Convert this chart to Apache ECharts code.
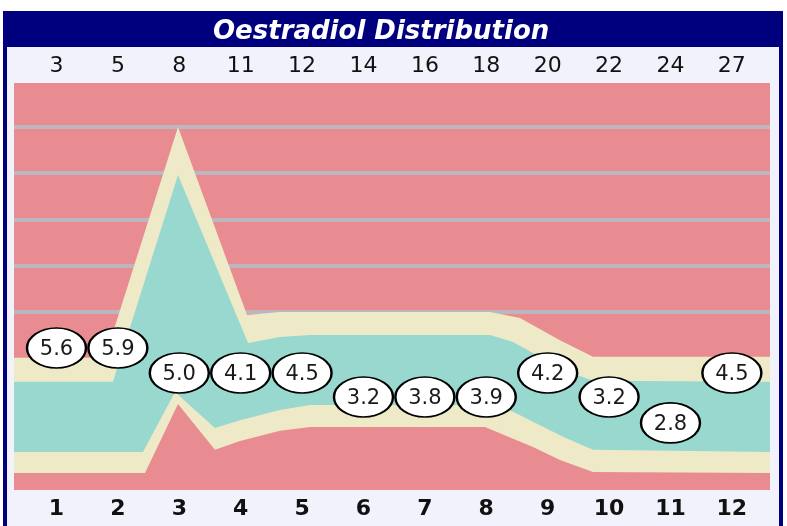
<!DOCTYPE html>
<html>
<head>
<meta charset="utf-8">
<script src="https://cdn.jsdelivr.net/npm/echarts@6/dist/echarts.min.js"></script>
<style>
  html, body { margin: 0; padding: 0; background: #fff; }
  #chart { width: 787px; height: 526px; }
</style>
</head>
<body>
<div id="chart"></div>
<script>
// cycle number (bottom) and day (top) for each visit
var cycleLabels = ['1', '2', '3', '4', '5', '6', '7', '8', '9', '10', '11', '12'];
var dayLabels = ['3', '5', '8', '11', '12', '14', '16', '18', '20', '22', '24', '27'];

// measured values shown in the ellipses, and the height each ellipse sits at
var measured = [5.6, 5.9, 5.0, 4.1, 4.5, 3.2, 3.8, 3.9, 4.2, 3.2, 2.8, 4.5];
var markerLevel = [32.2, 32.2, 26.8, 26.8, 26.8, 21.6, 21.6, 21.6, 26.8, 21.6, 16.0, 26.8];

// band edges, [position, level]
var upperOuter = [[0.308, 30.1], [1.79, 30.1], [2.979, 80], [4.103, 39.35], [4.64, 40], [8.06, 40],
  [8.549, 38.7], [9.2, 33.9], [9.738, 30.3], [12.621, 30.3]];
var upperInner = [[0.308, 24.9], [1.92, 24.9], [2.979, 69.6], [4.12, 33.3], [4.64, 34.6], [5.129, 35.0],
  [8.06, 35.0], [8.435, 33.5], [9.249, 27.5], [9.738, 25.1], [12.621, 24.9]];
var lowerInner = [[0.308, 9.7], [2.409, 9.7], [2.93, 22.7], [3.581, 14.9], [3.989, 16.6], [4.64, 18.8],
  [5.129, 19.9], [7.979, 19.9], [8.435, 18.4], [9.249, 13.0], [9.738, 10.2], [12.621, 9.7]];
var lowerOuter = [[0.308, 5.2], [2.441, 5.2], [2.979, 20.1], [3.581, 10.2], [3.989, 12.1], [4.64, 14.3],
  [5.129, 15.1], [7.979, 15.1], [8.761, 10.8], [9.2, 8.0], [9.738, 5.4], [12.621, 5.2]];

var gridLevels = [40, 50, 60, 70, 80];

var PINK = '#e98c92', CREAM = '#eeeac8', TEAL = '#98d8cf', NAVY = '#00007f';

var chart = echarts.init(document.getElementById('chart'));

function band(name, data, color) {
  return {
    name: name,
    type: 'line',
    data: data,
    symbol: 'none',
    silent: true,
    lineStyle: { width: 0 },
    areaStyle: { color: color, opacity: 1, origin: 'start' },
    z: 2
  };
}

var positions = cycleLabels.map(function (c, i) { return i + 1; });

var option = {
  animation: false,
  backgroundColor: '#ffffff',
  title: {
    text: 'Oestradiol Distribution',
    left: 208,
    top: 14,
    textStyle: {
      color: '#ffffff',
      fontStyle: 'italic',
      fontWeight: 'bold',
      fontSize: 26,
      fontFamily: 'DejaVu Sans'
    }
  },
  graphic: [
    { type: 'rect', z: -20, silent: true, shape: { x: 3, y: 11, width: 780, height: 530 }, style: { fill: NAVY } },
    { type: 'rect', z: -19, silent: true, shape: { x: 7, y: 47, width: 772, height: 500 }, style: { fill: '#f2f2fc' } },
    { type: 'rect', z: -18, silent: true, shape: { x: 14, y: 83, width: 756, height: 407 }, style: { fill: PINK } }
  ],
  grid: { left: 14, right: 17, top: 83, bottom: 36 },
  xAxis: [
    {
      type: 'value', position: 'bottom', min: 0.308, max: 12.621,
      axisLine: { show: false }, axisTick: { show: false }, splitLine: { show: false },
      axisLabel: {
        customValues: positions,
        formatter: function (v) { return cycleLabels[Math.round(v) - 1]; },
        margin: 8, color: '#111', fontSize: 22, fontWeight: 'bold', fontFamily: 'DejaVu Sans'
      }
    },
    {
      type: 'value', position: 'top', min: 0.308, max: 12.621,
      axisLine: { show: false }, axisTick: { show: false }, splitLine: { show: false },
      axisLabel: {
        customValues: positions,
        formatter: function (v) { return dayLabels[Math.round(v) - 1]; },
        margin: 6, color: '#111', fontSize: 22, fontFamily: 'DejaVu Sans'
      }
    }
  ],
  yAxis: {
    type: 'value', min: 1.5, max: 89.5,
    axisLine: { show: false },
    axisTick: { show: false, customValues: gridLevels },
    axisLabel: { show: false, customValues: gridLevels },
    splitLine: { show: true, lineStyle: { color: '#bdb6be', width: 4 } }
  },
  series: [
    band('upperOuter', upperOuter, CREAM),
    band('upperInner', upperInner, TEAL),
    band('lowerInner', lowerInner, CREAM),
    band('lowerOuter', lowerOuter, PINK),
    {
      name: 'Oestradiol',
      type: 'scatter',
      z: 5,
      data: measured.map(function (v, i) { return [positions[i], markerLevel[i], v]; }),
      symbol: 'path://M0,1 A1,1 0 1,1 2,1 A1,1 0 1,1 0,1 Z',
      symbolSize: [59, 40],
      itemStyle: { color: '#ffffff', borderColor: '#000000', borderWidth: 2, opacity: 1 },
      label: {
        show: true,
        position: 'inside',
        offset: [0, 2],
        formatter: function (p) { return p.value[2].toFixed(1); },
        color: '#1a1a1a',
        fontSize: 21,
        fontFamily: 'DejaVu Sans'
      }
    }
  ]
};

chart.setOption(option);
</script>
</body>
</html>
